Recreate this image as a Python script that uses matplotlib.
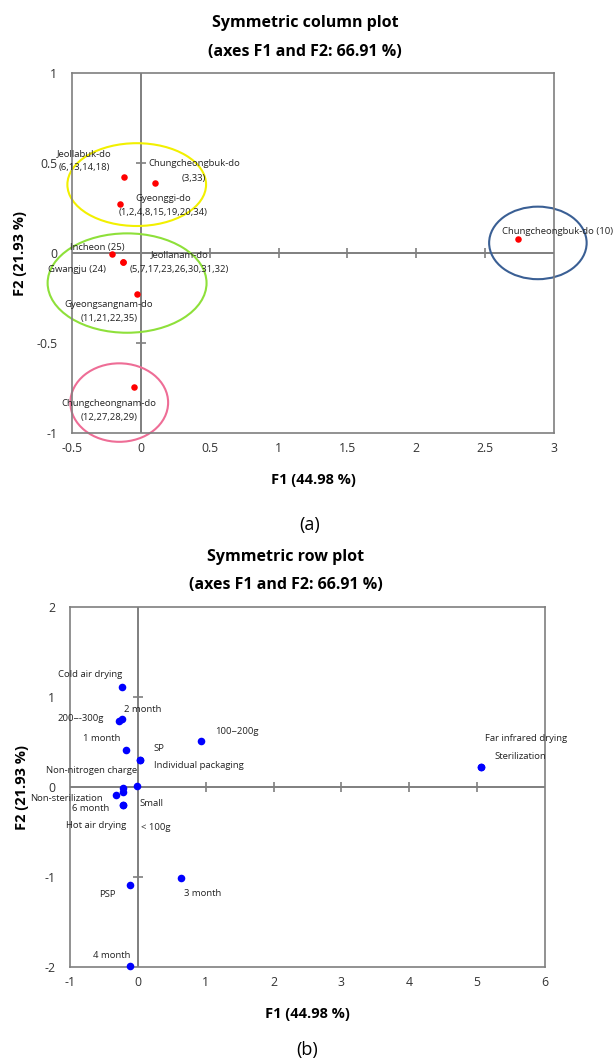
import matplotlib
matplotlib.use("Agg")
import matplotlib.pyplot as plt
from matplotlib.patches import Ellipse

plt.rcParams['font.family'] = ['Open Sans', 'DejaVu Sans']

# ---------------- data: column plot (a) ----------------
col_labels = ["Jeollabuk-do\n(6,13,14,18)", "Chungcheongbuk-do\n(3,33)",
              "Gyeonggi-do\n(1,2,4,8,15,19,20,34)", "Incheon (25)", "Gwangju (24)",
              "Jeollanam-do\n(5,7,17,23,26,30,31,32)", "Gyeongsangnam-do\n(11,21,22,35)",
              "Chungcheongnam-do\n(12,27,28,29)", "Chungcheongbuk-do (10)"]
col_f1 = [-0.121, 0.104, -0.152, -0.208, -0.130, -0.128, -0.029, -0.048, 2.737]
col_f2 = [0.420, 0.389, 0.274, -0.007, -0.052, -0.050, -0.226, -0.746, 0.079]
col_xticks = [-0.5, 0, 0.5, 1, 1.5, 2, 2.5, 3]
col_yticks = [-1, -0.5, 0, 0.5, 1]
col_xticklabels = ["-0.5", "0", "0.5", "1", "1.5", "2", "2.5", "3"]
col_yticklabels = ["-1", "-0.5", "0", "0.5", "1"]

# groups (ellipses): center x, center y, width, height, colour
ell_cx = [-0.03, -0.10, -0.157, 2.883]
ell_cy = [0.38, -0.167, -0.831, 0.056]
ell_w = [1.007, 1.154, 0.71, 0.708]
ell_h = [0.46, 0.552, 0.436, 0.403]
ell_colors = ["#F2F000", "#8EE03A", "#EE6D96", "#3A5F94"]

# ---------------- data: row plot (b) ----------------
row_labels = ["Cold air drying", "200~-300g", "2 month", "1 month", "100~200g", "SP",
              "Individual packaging", "Non-nitrogen charge", "Non-sterilization", "6 month",
              "Small", "Hot air drying", "< 100g", "PSP", "3 month", "4 month",
              "Far infrared drying", "Sterilization"]
row_f1 = [-0.236, -0.271, -0.236, -0.177, 0.934, 0.034, 0.034, -0.212, -0.325, -0.212,
          -0.010, -0.212, -0.212, -0.114, 0.639, -0.114, 5.053, 5.053]
row_f2 = [1.116, 0.733, 0.752, 0.415, 0.508, 0.304, 0.304, -0.007, -0.084, -0.059,
          0.008, -0.200, -0.200, -1.084, -1.011, -1.989, 0.227, 0.227]
row_xticks = [-1, 0, 1, 2, 3, 4, 5, 6]
row_yticks = [-2, -1, 0, 1, 2]
row_xticklabels = ["-1", "0", "1", "2", "3", "4", "5", "6"]
row_yticklabels = ["-2", "-1", "0", "1", "2"]

# label offsets (pixels) – styling only
col_off = [(-40, 17), (39, 12), (43, -2), (-15, 7), (-46, -7), (56, 0), (-28, -18), (-25, -23), (40, 7)]
row_off = [(-32, 12), (-39, 3), (21, 10), (-24, 11), (36, 10), (19, 11), (59, -6), (-32, 17),
           (-49, -4), (-33, -16), (14, -17), (-27, -20), (32, -22), (-23, -10), (21, -16),
           (-18, 11), (45, 28), (40, 10)]

W, H = 613, 1061
fig = plt.figure(figsize=(W / 100, H / 100), dpi=100)
GRAY = "#7F7F7F"


def make_axes(rect, xlim, ylim, xticks, xtl, yticks, ytl):
    ax = fig.add_axes(rect)
    ax.set_xlim(*xlim)
    ax.set_ylim(*ylim)
    ax.set_xticks(xticks)
    ax.set_xticklabels(xtl)
    ax.set_yticks(yticks)
    ax.set_yticklabels(ytl)
    ax.tick_params(length=0, labelsize=8.8, colors="#333333")
    ax.tick_params(axis="x", pad=6.5)
    ax.tick_params(axis="y", pad=10.5)
    for sp in ax.spines.values():
        sp.set_color(GRAY)
        sp.set_linewidth(1.2)
    ax.axhline(0, color=GRAY, lw=1.4, zorder=1)
    ax.axvline(0, color=GRAY, lw=1.4, zorder=1)
    inner_x = [t for t in xticks if t not in (0, xlim[0], xlim[1])]
    inner_y = [t for t in yticks if t not in (0, ylim[0], ylim[1])]
    ax.plot(inner_x, [0] * len(inner_x), linestyle="none", marker="|", markersize=7,
            markeredgewidth=1.2, color=GRAY, zorder=1)
    ax.plot([0] * len(inner_y), inner_y, linestyle="none", marker="_", markersize=7,
            markeredgewidth=1.2, color=GRAY, zorder=1)
    return ax


# ---------- top plot ----------
ax1 = make_axes([72 / W, 1 - 433 / H, 482 / W, 360 / H], (-0.5, 3), (-1, 1),
                col_xticks, col_xticklabels, col_yticks, col_yticklabels)
for cx, cy, w, h, c in zip(ell_cx, ell_cy, ell_w, ell_h, ell_colors):
    ax1.add_patch(Ellipse((cx, cy), w, h, fill=False, edgecolor=c, lw=1.5, clip_on=False, zorder=2))
ax1.scatter(col_f1, col_f2, s=22, color="#FF0000", zorder=3, clip_on=False, linewidths=0)
for lab, x, y, (dx, dy) in zip(col_labels, col_f1, col_f2, col_off):
    ax1.annotate(lab, (x, y), xytext=(dx, dy), textcoords="offset pixels", ha="center",
                 va="center", fontsize=6.8, color="#222222", linespacing=1.75,
                 annotation_clip=False, zorder=4)
fig.text(305 / W, 1 - 23 / H, "Symmetric column plot", ha="center", va="center",
         fontsize=11.5, fontweight="bold")
fig.text(305 / W, 1 - 52 / H, "(axes F1 and F2: 66.91 %)", ha="center", va="center",
         fontsize=11.5, fontweight="bold")
fig.text(313 / W, 1 - 480 / H, "F1 (44.98 %)", ha="center", va="center", fontsize=10.5,
         fontweight="bold")
fig.text(20 / W, 1 - 253 / H, "F2 (21.93 %)", ha="center", va="center", fontsize=10.5,
         fontweight="bold", rotation=90)
fig.text(310 / W, 1 - 525 / H, "(a)", ha="center", va="center", fontsize=13)

# ---------- bottom plot ----------
ax2 = make_axes([70 / W, 1 - 967 / H, 475 / W, 360 / H], (-1, 6), (-2, 2),
                row_xticks, row_xticklabels, row_yticks, row_yticklabels)
ax2.scatter(row_f1, row_f2, s=30, color="#0000FF", zorder=3, clip_on=False, linewidths=0)
for lab, x, y, (dx, dy) in zip(row_labels, row_f1, row_f2, row_off):
    ax2.annotate(lab, (x, y), xytext=(dx, dy), textcoords="offset pixels", ha="center",
                 va="center", fontsize=6.8, color="#222222", annotation_clip=False, zorder=4)
fig.text(286 / W, 1 - 557 / H, "Symmetric row plot", ha="center", va="center",
         fontsize=11.5, fontweight="bold")
fig.text(286 / W, 1 - 585 / H, "(axes F1 and F2: 66.91 %)", ha="center", va="center",
         fontsize=11.5, fontweight="bold")
fig.text(307 / W, 1 - 1014 / H, "F1 (44.98 %)", ha="center", va="center", fontsize=10.5,
         fontweight="bold")
fig.text(22 / W, 1 - 787 / H, "F2 (21.93 %)", ha="center", va="center", fontsize=10.5,
         fontweight="bold", rotation=90)
fig.text(307 / W, 1 - 1050 / H, "(b)", ha="center", va="center", fontsize=13)

fig.savefig("out.png", dpi=100, facecolor="white")
